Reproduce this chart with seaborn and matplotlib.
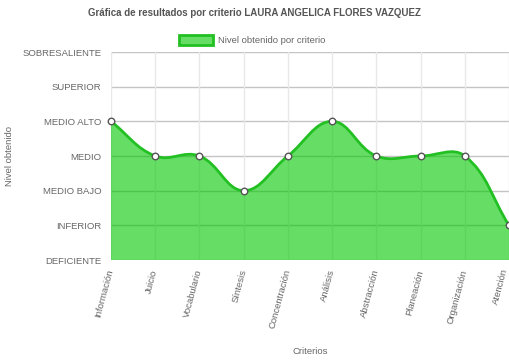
import numpy as np
import matplotlib
matplotlib.use("Agg")
import matplotlib.pyplot as plt
from matplotlib.path import Path
from matplotlib.patches import PathPatch, Patch
import seaborn as sns
import pandas as pd

criterios = ["Información", "Juicio", "Vocabulario", "Síntesis", "Concentración",
             "Análisis", "Abstracción", "Planeación", "Organización", "Atención"]
niveles = [4, 3, 3, 2, 3, 4, 3, 3, 3, 1]
nivel_labels = ["DEFICIENTE", "INFERIOR", "MEDIO BAJO", "MEDIO",
                "MEDIO ALTO", "SUPERIOR", "SOBRESALIENTE"]

df = pd.DataFrame({"x": np.arange(len(criterios)), "nivel": niveles})

sns.set_style("white")
plt.rcParams["font.family"] = ["Liberation Sans", "DejaVu Sans"]
txt = "#666666"
fs = 6.8

fig = plt.figure(figsize=(5.1, 3.61), dpi=100)
ax = fig.add_axes([111 / 510, 1 - 260 / 361, 398 / 510, 208 / 361])

# Chart.js-style smoothing (tension 0.4), distances measured in pixel units
sx, sy = 398 / 9, 208 / 6
pts = df[["x", "nivel"]].to_numpy(dtype=float)
n = len(pts)
cps = []
for i in range(n):
    prev = pts[i - 1] if i > 0 else pts[i]
    nxt = pts[i + 1] if i < n - 1 else pts[i]
    cur = pts[i]
    d01 = np.hypot((cur[0] - prev[0]) * sx, (cur[1] - prev[1]) * sy)
    d12 = np.hypot((nxt[0] - cur[0]) * sx, (nxt[1] - cur[1]) * sy)
    tot = d01 + d12
    s01 = d01 / tot if tot else 0
    s12 = d12 / tot if tot else 0
    fa, fb = 0.4 * s01, 0.4 * s12
    cp_prev = cur - fa * (nxt - prev)
    cp_next = cur + fb * (nxt - prev)
    cp_prev[1] = np.clip(cp_prev[1], 0, 6)
    cp_next[1] = np.clip(cp_next[1], 0, 6)
    cps.append((cp_prev, cp_next))

verts = [tuple(pts[0])]
codes = [Path.MOVETO]
for i in range(n - 1):
    verts += [tuple(cps[i][1]), tuple(cps[i + 1][0]), tuple(pts[i + 1])]
    codes += [Path.CURVE4] * 3

fill_verts = verts + [(pts[-1][0], 0), (pts[0][0], 0), verts[0]]
fill_codes = codes + [Path.LINETO, Path.LINETO, Path.CLOSEPOLY]

# grid
for yv in range(7):
    ax.axhline(yv, color="#c4c4c4", lw=1, zorder=0)
for xv in range(n):
    ax.axvline(xv, color="#e8e8e8", lw=1, zorder=0)

ax.add_patch(PathPatch(Path(fill_verts, fill_codes), facecolor=(0, 200 / 255, 0, 0.6),
                       edgecolor="none", zorder=1))
ax.add_patch(PathPatch(Path(verts, codes), facecolor="none", edgecolor="#22c022",
                       lw=2, zorder=2))

sns.scatterplot(data=df, x="x", y="nivel", ax=ax, s=22, color="white",
                edgecolor="#555555", linewidth=1, zorder=3, clip_on=False, legend=False)

ax.set_xlim(0, 9)
ax.set_ylim(0, 6)
ax.set_xticks(range(n))
ax.set_xticklabels(criterios, rotation=75, ha="right", va="center",
                   rotation_mode="anchor", fontsize=fs, color=txt)
ax.set_yticks(range(7))
ax.set_yticklabels(nivel_labels, fontsize=fs, color=txt)
ax.tick_params(axis="both", length=6, color="#c4c4c4", width=1, pad=1)
ax.tick_params(axis="x", pad=1)
for sp in ax.spines.values():
    sp.set_visible(False)

# nudge the last x label so it stays inside the canvas
ax.get_xticklabels()[-1].set_va("bottom")

ax.set_xlabel("")
ax.set_ylabel("")
fig.text(310 / 510, 1 - 352 / 361, "Criterios", ha="center", va="center",
         fontsize=fs, color=txt)
fig.text(10 / 510, 1 - 156 / 361, "Nivel obtenido", ha="center", va="center",
         rotation=90, fontsize=fs, color=txt)

fig.text(254 / 510, 1 - 13 / 361, "Gráfica de resultados por criterio LAURA ANGELICA FLORES VAZQUEZ",
         ha="center", va="center", fontsize=7.0, fontweight="bold", color="#555555")

handle = Patch(facecolor=(0, 200 / 255, 0, 0.6), edgecolor="#22c022", linewidth=2)
fig.legend([handle], ["Nivel obtenido por criterio"], loc="center",
           bbox_to_anchor=(252 / 510, 1 - 40 / 361), frameon=False, fontsize=fs,
           handlelength=3.6, handleheight=1.3, handletextpad=0.5, labelcolor=txt)

fig.savefig("out.png", dpi=100)
